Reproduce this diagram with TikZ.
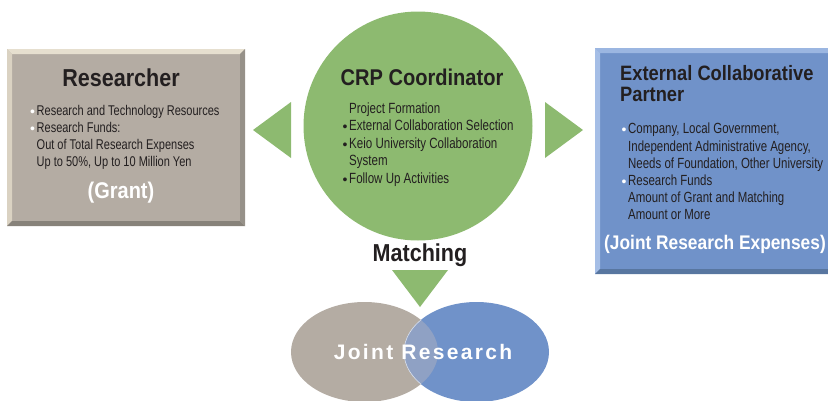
\documentclass[tikz,border=0pt]{standalone}
\usepackage{fontspec}
\setmainfont{Liberation Sans}
\newfontfamily\condbody{Liberation Sans}[FakeStretch=0.78]
\newfontfamily\condtitle{Liberation Sans}[FakeStretch=0.88]
\usetikzlibrary{shapes.geometric}

\definecolor{crpgreen}{HTML}{8DBA70}
\definecolor{resgrey}{HTML}{B4ACA3}
\definecolor{resgreyhi}{HTML}{E6DFCF}
\definecolor{resgreyside}{HTML}{DAD2C2}
\definecolor{resgreylo}{HTML}{87827A}
\definecolor{resgreyrt}{HTML}{969189}
\definecolor{partblue}{HTML}{7092C9}
\definecolor{partbluehi}{HTML}{9BB6E1}
\definecolor{partblueside}{HTML}{A5BEE6}
\definecolor{partbluelo}{HTML}{5876A0}
\definecolor{overlapblue}{HTML}{8FA1C4}
\definecolor{inkdark}{HTML}{231F20}

\newcommand{\bul}[1]{\makebox[6.5pt][l]{\color{#1}\normalfont\fontsize{14}{14}\selectfont\raisebox{-1pt}{\textbullet}}}
\newcommand{\ind}{\hspace*{6.5pt}}

% bevelled panel: top, left, bottom, right edge colours
\tikzset{
  bevel/.style n args={4}{path picture={
    \fill[#1] (path picture bounding box.north west) -- (path picture bounding box.north east)
      -- ([xshift=-5pt,yshift=-5pt]path picture bounding box.north east)
      -- ([xshift=5pt,yshift=-5pt]path picture bounding box.north west) -- cycle;
    \fill[#2] (path picture bounding box.north west) -- ([xshift=5pt,yshift=-5pt]path picture bounding box.north west)
      -- ([xshift=5pt,yshift=5pt]path picture bounding box.south west)
      -- (path picture bounding box.south west) -- cycle;
    \fill[#3] (path picture bounding box.south west) -- (path picture bounding box.south east)
      -- ([xshift=-5pt,yshift=5pt]path picture bounding box.south east)
      -- ([xshift=5pt,yshift=5pt]path picture bounding box.south west) -- cycle;
    \fill[#4] (path picture bounding box.north east) -- (path picture bounding box.south east)
      -- ([xshift=-5pt,yshift=5pt]path picture bounding box.south east)
      -- ([xshift=-5pt,yshift=-5pt]path picture bounding box.north east) -- cycle;
  }}
}

\begin{document}
\begin{tikzpicture}[x=1pt, y=-1pt, every node/.style={inner sep=0pt, text=inkdark}]

    % Styles
    \tikzstyle{panel} = [rectangle, draw=none]
    \tikzstyle{title_txt} = [font=\condtitle\bfseries\fontsize{24.5}{28}\selectfont]
    \tikzstyle{list_txt} = [align=left, anchor=north west]
    \tikzstyle{tag_txt} = [text=white]
    \tikzstyle{arrow_tri} = [fill=crpgreen]

    \useasboundingbox (0,0) rectangle (828,400);

    % Researcher panel (left)
    \node[panel, fill=resgrey, minimum width=238pt, minimum height=177pt,
          bevel={resgreyhi}{resgreyside}{resgreylo}{resgreyrt}] (researcher) at (126,137.5) {};
    \node[title_txt] (researcher_title) at (121,78) {Researcher};
    \node[list_txt, font=\condbody\fontsize{14.1}{16.7}\selectfont] (researcher_list) at (30,105.5)
      {\bul{white}Research and Technology Resources\\
       \bul{white}Research Funds:\\
       \ind Out of Total Research Expenses\\
       \ind Up to 50\%, Up to 10 Million Yen};
    \node[tag_txt, font=\condtitle\bfseries\fontsize{22.7}{26}\selectfont] (grant) at (121,193) {(Grant)};

    % CRP Coordinator (centre)
    \node[circle, fill=crpgreen, minimum size=229pt] (crp) at (418,126) {};
    \node[title_txt, font=\condtitle\bfseries\fontsize{22.8}{26}\selectfont] (crp_title) at (422,77) {CRP Coordinator};
    \node[list_txt, font=\condbody\fontsize{14.8}{17.5}\selectfont] (crp_list) at (342.5,102.5)
      {\ind Project Formation\\
       \bul{inkdark}External Collaboration Selection\\
       \bul{inkdark}Keio University Collaboration\\
       \ind System\\
       \bul{inkdark}Follow Up Activities};

    % External Collaborative Partner panel (right)
    \node[panel, fill=partblue, minimum width=241pt, minimum height=226pt,
          bevel={partbluehi}{partblueside}{partbluelo}{partbluelo}] (partner) at (715.5,161) {};
    \node[list_txt, font=\condtitle\bfseries\fontsize{20.8}{21}\selectfont] (partner_title) at (620,65.5)
      {External Collaborative\\ Partner};
    \node[list_txt, font=\condbody\fontsize{14.7}{17.2}\selectfont] (partner_list) at (621.5,123)
      {\bul{white}Company, Local Government,\\
       \ind Independent Administrative Agency,\\
       \ind Needs of Foundation, Other University\\
       \bul{white}Research Funds\\
       \ind Amount of Grant and Matching\\
       \ind Amount or More};
    \node[tag_txt, font=\condtitle\bfseries\fontsize{19.7}{22}\selectfont] (expenses) at (715,244)
      {(Joint Research Expenses)};

    % Arrow heads out of the coordinator
    \fill[arrow_tri] (253,130) -- (291,102) -- (291,158) -- cycle;
    \fill[arrow_tri] (583,130) -- (545,102) -- (545,158) -- cycle;

    % Matching
    \node[title_txt] (matching) at (420,255) {Matching};
    \fill[arrow_tri] (392,270) -- (448,270) -- (420,307) -- cycle;

    % Joint research overlap
    \node[ellipse, fill=resgrey, minimum width=147pt, minimum height=100pt] (joint_left) at (364.5,352) {};
    \node[ellipse, fill=partblue, minimum width=145pt, minimum height=100pt] (joint_right) at (476.5,352) {};
    \begin{scope}
      \clip (364.5,352) ellipse [x radius=73.5, y radius=50];
      \fill[overlapblue, draw=white!70!overlapblue, line width=0.6pt] (476.5,352) ellipse [x radius=72.5, y radius=50];
    \end{scope}
    \node[tag_txt, font=\bfseries\fontsize{21}{24}\selectfont\addfontfeature{LetterSpace=11}] (joint_txt) at (423,352)
      {Joint Research};

\end{tikzpicture}
\end{document}
